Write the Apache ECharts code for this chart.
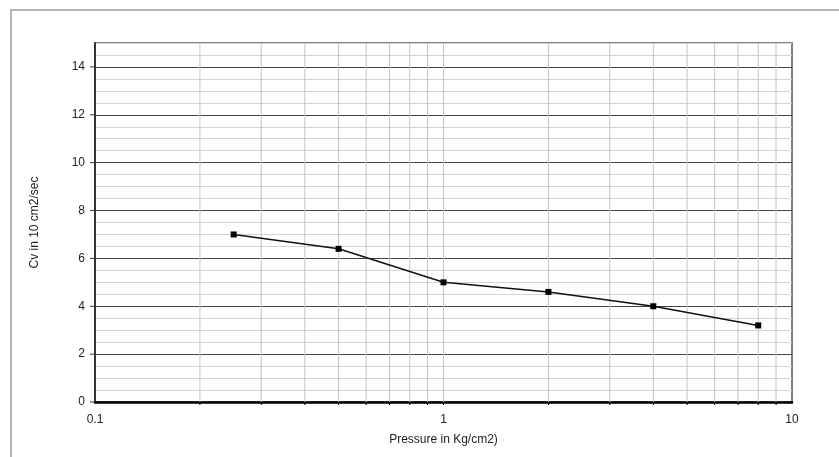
<!DOCTYPE html>
<html>
<head>
<meta charset="utf-8">
<script src="https://cdn.jsdelivr.net/npm/echarts@6/dist/echarts.min.js"></script>
<style>html,body{margin:0;padding:0;background:#fff}#c{width:839px;height:457px}</style>
</head>
<body>
<div id="c"></div>
<script>
// Data
var pressure = [0.25, 0.5, 1, 2, 4, 8];
var cv = [7.0, 6.4, 5.0, 4.6, 4.0, 3.2];
// Log-axis grid line positions (0.2..0.9, 1, 2..9)
var xGridValues = [0.2, 0.3, 0.4, 0.5, 0.6, 0.7, 0.8, 0.9, 1, 2, 3, 4, 5, 6, 7, 8, 9];
var xLabelValues = [0.1, 1, 10];
var yTickValues = [0, 2, 4, 6, 8, 10, 12, 14];
var yMin = 0, yMax = 15, yStep = 0.5;

var chart = echarts.init(document.getElementById('c'), null, {renderer: 'canvas'});
var font = 'Liberation Sans, Arial, sans-serif';

function isMajorY(v) { return yTickValues.indexOf(+v) >= 0; }

var option = {
  animation: false,
  graphic: [{
    type: 'rect', shape: {x: 11, y: 10, width: 900, height: 500},
    style: {fill: 'none', stroke: '#9a9a9a', lineWidth: 1.5}, z: -10, silent: true
  }],
  grid: {left: 95, right: 47, top: 43, bottom: 55, show: true, borderColor: '#555', borderWidth: 1.5, backgroundColor: 'transparent'},
  xAxis: {
    type: 'log', logBase: 10, min: 0.1, max: 10,
    name: 'Pressure in Kg/cm2)', nameLocation: 'middle', nameGap: 32,
    nameTextStyle: {fontFamily: font, fontSize: 12, color: '#222'},
    axisLine: {show: true, onZero: false, lineStyle: {color: '#000', width: 2.5}},
    axisTick: {show: false},
    axisLabel: {fontFamily: font, fontSize: 12, color: '#222', margin: 12,
      formatter: function (v) { return xLabelValues.indexOf(+v) >= 0 ? String(+v) : ''; }},
    splitLine: {show: false},
    minorTick: {show: false}, minorSplitLine: {show: false}
  },
  yAxis: {
    type: 'value', min: yMin, max: yMax, interval: yStep,
    name: 'Cv in 10 cm2/sec', nameLocation: 'middle', nameGap: 54, nameRotate: 90,
    nameTextStyle: {fontFamily: font, fontSize: 12, color: '#222'},
    axisLine: {show: true, lineStyle: {color: '#333', width: 2}},
    axisTick: {show: false},
    axisLabel: {fontFamily: font, fontSize: 12, color: '#222', margin: 10,
      formatter: function (v) { return isMajorY(v) ? String(v) : ''; }},
    splitLine: {show: true, lineStyle: {color: ['#444', '#d4d4d4', '#d4d4d4', '#d4d4d4'], width: 1.2}}
  },
  series: [
    {
      type: 'custom',
      data: xGridValues.map(function (v) { return [v]; }),
      clip: false,
      silent: true,
      z: 1,
      renderItem: function (params, api) {
        var x = api.value(0);
        var top = api.coord([x, yMax]);
        var bot = api.coord([x, yMin]);
        return {
          type: 'group',
          children: [
            {type: 'line', shape: {x1: top[0], y1: top[1], x2: bot[0], y2: bot[1]},
              style: {stroke: '#c4c4c4', lineWidth: 1}},
            {type: 'line', shape: {x1: bot[0], y1: bot[1], x2: bot[0], y2: bot[1] + 3},
              style: {stroke: '#000', lineWidth: 1}}
          ]
        };
      }
    },
    {
      type: 'custom',
      data: yTickValues.map(function (v) { return [0.1, v]; }),
      clip: false,
      silent: true,
      z: 2,
      renderItem: function (params, api) {
        var p = api.coord([api.value(0), api.value(1)]);
        return {type: 'line', shape: {x1: p[0] - 5, y1: p[1], x2: p[0], y2: p[1]},
          style: {stroke: '#333', lineWidth: 1}};
      }
    },
    {
      type: 'line',
      data: pressure.map(function (p, i) { return [p, cv[i]]; }),
      symbol: 'rect', symbolSize: 6,
      itemStyle: {color: '#000'},
      lineStyle: {color: '#111', width: 1.5},
      z: 5
    }
  ]
};
chart.setOption(option);
</script>
</body>
</html>
